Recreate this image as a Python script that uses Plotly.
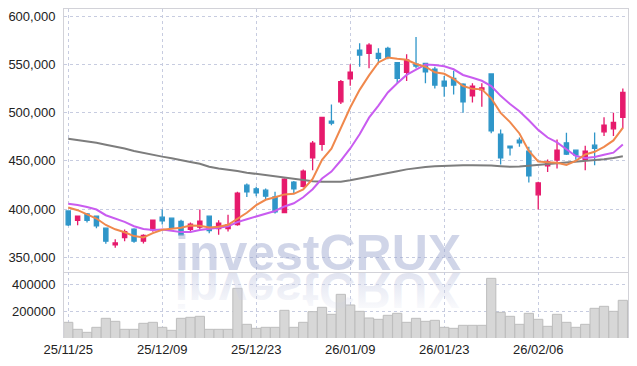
import base64
import plotly.graph_objects as go

# ---------------- data ----------------
dates = [
    "25/11/25", "25/11/26", "25/11/27", "25/11/28", "25/12/01", "25/12/02", "25/12/03", "25/12/04", "25/12/05", "25/12/08",
    "25/12/09", "25/12/10", "25/12/11", "25/12/12", "25/12/15", "25/12/16", "25/12/17", "25/12/18", "25/12/19", "25/12/22",
    "25/12/23", "25/12/24", "25/12/26", "25/12/29", "25/12/30", "26/01/02", "26/01/05", "26/01/06", "26/01/07", "26/01/08",
    "26/01/09", "26/01/12", "26/01/13", "26/01/14", "26/01/15", "26/01/16", "26/01/19", "26/01/20", "26/01/21", "26/01/22",
    "26/01/23", "26/01/26", "26/01/27", "26/01/28", "26/01/29", "26/01/30", "26/02/02", "26/02/03", "26/02/04", "26/02/05",
    "26/02/06", "26/02/09", "26/02/10", "26/02/11", "26/02/12", "26/02/13", "26/02/19", "26/02/20", "26/02/23", "26/02/24",
]
tick_dates = ["25/11/25", "25/12/09", "25/12/23", "26/01/09", "26/01/23", "26/02/06"]

opens = [398100, 388400, 395000, 392600, 380200, 362800, 370400, 379100, 366700, 378400,
         391600, 390500, 387100, 378900, 381200, 392600, 379800, 379800, 384000, 424700,
         420900, 419600, 412600, 396400, 427900, 423400, 453000, 467000, 491100, 511100,
         535000, 564700, 561300, 561300, 566500, 551600, 541600, 550200, 551000, 545000,
         532600, 535400, 529500, 517400, 523600, 539900, 477600, 465200, 471400, 460000,
         414700, 444800, 450700, 468600, 461000, 451400, 466200, 480000, 483100, 495000]
highs = [398500, 393000, 396000, 393200, 380800, 368700, 378800, 380000, 374000, 389200,
         399600, 391000, 389000, 386000, 399600, 393000, 388400, 394000, 417800, 426500,
         423000, 421300, 417800, 432000, 429000, 441000, 470400, 495600, 508400, 533600,
         549900, 571700, 571700, 566500, 568200, 552000, 560300, 578200, 551500, 547400,
         537800, 543300, 530200, 530200, 530200, 540000, 482500, 465500, 474200, 464500,
         428200, 451400, 472100, 479000, 461000, 465500, 479400, 495000, 499700, 525000]
lows = [382500, 383300, 386000, 380000, 364000, 360000, 366700, 365000, 364300, 376500,
        384000, 380000, 372600, 375600, 379000, 375000, 373300, 376800, 382600, 412600,
        413300, 410000, 395400, 395800, 416000, 422400, 440300, 460300, 486700, 508800,
        527700, 547400, 545800, 551000, 555100, 530200, 532600, 545800, 530200, 525000,
        516300, 518800, 499700, 510500, 505900, 478400, 446200, 455500, 464500, 427500,
        399600, 438500, 442000, 455900, 451000, 440300, 445500, 475600, 475600, 483500]
closes = [383600, 392600, 388400, 382600, 366700, 364900, 376700, 366700, 372600, 388400,
          387800, 380900, 373300, 384400, 387400, 377800, 385300, 383600, 416500, 417800,
          416800, 413300, 397000, 431000, 420900, 439300, 468300, 495000, 489000, 531900,
          541900, 559600, 569900, 556100, 557200, 535400, 554400, 548200, 542200, 528400,
          527400, 528400, 511100, 527400, 525600, 481100, 453000, 463400, 468600, 434400,
          427100, 448900, 461000, 456900, 455900, 460000, 462800, 487000, 489800, 520900]

ma5 = [401600, 398800, 394400, 390200, 383500, 379000, 375900, 372000, 370500, 375000,
       378600, 379300, 380600, 383000, 382800, 380800, 381600, 383700, 390100, 396200,
       404000, 409600, 412300, 415200, 415800, 420300, 431300, 450900, 462500, 484700,
       505200, 523500, 538500, 551900, 556900, 555600, 554600, 550300, 547500, 541700,
       540100, 534900, 527500, 524500, 524000, 514700, 499600, 490100, 478300, 460100,
       449300, 448500, 448000, 445700, 450000, 456500, 459300, 464500, 471100, 484100]
ma10 = [405400, 404300, 402200, 399500, 393600, 390200, 386700, 382200, 379400, 378300,
        378700, 377600, 376100, 376200, 378300, 379600, 380500, 382200, 386500, 389500,
        392400, 395600, 398000, 402700, 406000, 412200, 420500, 431600, 438800, 450300,
        462800, 477400, 494700, 507200, 520800, 530400, 539000, 544400, 549700, 549300,
        547900, 544800, 538900, 536000, 532900, 527400, 517300, 508800, 501400, 492000,
        482000, 474100, 469100, 462000, 455000, 452900, 453900, 456300, 458400, 467000]
ma_long = [472800, 471600, 470100, 468600, 466700, 464800, 462700, 460200, 458100, 456400,
           454300, 452700, 451100, 448800, 447000, 443900, 441900, 440800, 439300, 437700,
           436400, 435100, 433800, 432200, 430700, 429400, 428700, 428200, 428200, 428400,
           429900, 431600, 433300, 435100, 437000, 439100, 441100, 442600, 443600, 444400,
           444900, 445100, 445300, 445500, 445500, 445200, 444400, 443800, 444200, 445000,
           445500, 446200, 447100, 448000, 448800, 449800, 450700, 451700, 453000, 454800]

volume = [121700, 70600, 48700, 85200, 150900, 129000, 70600, 70600, 114400, 121700,
          85200, 63300, 150900, 158200, 165500, 70600, 70600, 70600, 369800, 107100,
          77900, 85200, 85200, 209300, 85200, 121700, 199500, 231200, 180100, 326000,
          248200, 202000, 153300, 143600, 172800, 187400, 121700, 150900, 129000, 136300,
          85200, 77900, 99800, 99800, 99800, 442800, 194700, 165500, 107100, 187400,
          143600, 92500, 180100, 121700, 85200, 107100, 223900, 238500, 202000, 282300]

price_ticks = [350000, 400000, 450000, 500000, 550000, 600000]
volume_ticks = [200000, 400000]

# ---------------- style ----------------
UP = "#e61a6c"
DOWN = "#2f96c9"
GRID = "#c7cce0"
AXLINE = "#d2d2d8"
FONT = dict(family="Liberation Sans, Arial, sans-serif", size=13, color="#222222")

fig = go.Figure()

fig.add_trace(go.Bar(
    x=dates, y=volume, xaxis="x2", yaxis="y2",
    marker=dict(color="#d7d7d7", line=dict(color="#bdbdbd", width=1)),
    showlegend=False, hoverinfo="x+y",
))

fig.add_trace(go.Candlestick(
    x=dates, open=opens, high=highs, low=lows, close=closes,
    xaxis="x", yaxis="y",
    increasing=dict(line=dict(color=UP, width=1.3), fillcolor=UP),
    decreasing=dict(line=dict(color=DOWN, width=1.3), fillcolor=DOWN),
    whiskerwidth=0, showlegend=False,
))

for vals, col in [(ma_long, "#7d7d7d"), (ma10, "#c95cf0"), (ma5, "#f0884c")]:
    fig.add_trace(go.Scatter(
        x=dates, y=vals, mode="lines", xaxis="x", yaxis="y",
        line=dict(color=col, width=2), showlegend=False, hoverinfo="skip",
    ))

common_x = dict(
    type="category", categoryorder="array", categoryarray=dates,
    range=[-0.45, 59.55], tickvals=tick_dates, automargin=False,
    showgrid=True, griddash="dot", gridcolor=GRID, gridwidth=1,
    zeroline=False, ticks="", fixedrange=True,
)

# watermark reflection (decorative mirrored copy)
svg = (
    "<svg xmlns='http://www.w3.org/2000/svg' width='300' height='50' viewBox='0 0 300 50'>"
    "<defs><linearGradient id='g' gradientUnits='userSpaceOnUse' x1='0' y1='0' x2='0' y2='-38'>"
    "<stop offset='0' stop-color='rgb(200,205,228)' stop-opacity='0.55'/>"
    "<stop offset='1' stop-color='rgb(200,205,228)' stop-opacity='0.08'/>"
    "</linearGradient></defs>"
    "<g transform='translate(0,1) scale(1,-1)'>"
    "<text x='150' y='0' text-anchor='middle' font-family='Liberation Sans, Arial' "
    "font-weight='bold' font-size='50' fill='url(#g)'>investCRUX</text></g></svg>"
)
svg_uri = "data:image/svg+xml;base64," + base64.b64encode(svg.encode()).decode()

# the page body adds an 8px margin; margins are chosen so the plot lands at
# x 64..628, y 9..338 of the window
fig.update_layout(
    width=637, height=366,
    margin=dict(l=56, r=17, t=1, b=36),
    paper_bgcolor="white", plot_bgcolor="white",
    font=FONT,
    boxgap=0.36,
    bargap=0.02,
    xaxis=dict(common_x, domain=[0, 1], anchor="y", showticklabels=False,
               rangeslider=dict(visible=False),
               showline=True, mirror=True, linecolor=AXLINE, linewidth=1),
    xaxis2=dict(common_x, domain=[0, 1], anchor="y2", matches="x",
                showticklabels=True, showline=False, ticklabelstandoff=2),
    yaxis=dict(domain=[0.2006, 1], range=[334780, 607250], tickvals=price_ticks,
               tickformat=",d", showgrid=True, griddash="dot", gridcolor=GRID,
               zeroline=False, ticks="", showline=True, mirror=True, automargin=False,
               linecolor=AXLINE, linewidth=1, ticklabelstandoff=5, fixedrange=True),
    yaxis2=dict(domain=[0, 0.2006], range=[7300, 489000], tickvals=volume_ticks,
                tickformat="d", showgrid=True, griddash="dot", gridcolor=GRID,
                zeroline=False, ticks="", showline=True, mirror=True, automargin=False,
                linecolor=AXLINE, linewidth=1, ticklabelstandoff=5, fixedrange=True),
    annotations=[dict(
        text="investCRUX", xref="paper", yref="paper",
        x=(317.5 - 64) / 564, y=(338 - 283) / 329, xanchor="center", yanchor="bottom",
        showarrow=False,
        font=dict(family="Liberation Sans, Arial, sans-serif", size=50, weight="bold",
                  color="rgba(150,162,205,0.45)"),
    )],
    images=[dict(
        source=svg_uri, xref="paper", yref="paper",
        x=(317.5 - 150 - 64) / 564, y=(338 - 272) / 329,
        sizex=300 / 564, sizey=50 / 329, xanchor="left", yanchor="top",
        sizing="stretch", layer="above", opacity=1,
    )],
)

fig.write_html("out.html")
